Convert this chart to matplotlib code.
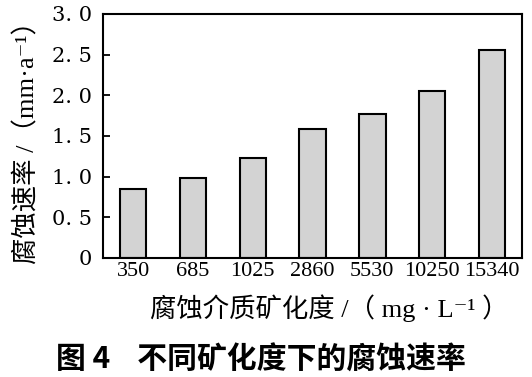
import matplotlib
matplotlib.use("Agg")
import matplotlib.pyplot as plt

# data
salinity = ["350", "685", "1025", "2860", "5530", "10250", "15340"]
rate = [0.85, 0.98, 1.23, 1.59, 1.77, 2.05, 2.56]
yticks = [0, 0.5, 1.0, 1.5, 2.0, 2.5, 3.0]
ytick_labels = ["0", "0. 5", "1. 0", "1. 5", "2. 0", "2. 5", "3. 0"]

fam = ["Liberation Serif", "DejaVu Serif", "Noto Sans CJK SC"]
plt.rcParams["font.family"] = fam

fig = plt.figure(figsize=(5.32, 3.77), dpi=100)
ax = fig.add_axes([0.194, 0.316, 0.787, 0.647])

x = list(range(len(salinity)))
ax.bar(x, rate, width=0.44, color="#d3d3d3", edgecolor="black", linewidth=1.5, zorder=2)

ax.set_xlim(-0.5, 6.5)
ax.set_ylim(0, 3.0)
ax.set_xticks(x)
ax.set_xticklabels(salinity, fontsize=16)
ax.set_yticks(yticks)
ax.set_yticklabels(ytick_labels, fontsize=15, family="DejaVu Serif")
ax.tick_params(axis="both", direction="in", width=1.3, zorder=3)
ax.tick_params(axis="x", length=6, pad=3)
ax.tick_params(axis="y", length=5, pad=8)
for s in ax.spines.values():
    s.set_linewidth(1.5)

ax.set_ylabel("腐蚀速率 /（mm·a⁻¹）", fontsize=19, labelpad=9)
ax.set_xlabel("腐蚀介质矿化度 /（ mg · L⁻¹ ）", fontsize=19)
ax.xaxis.set_label_coords(0.54, -0.15)

fig.text(0.49, 0.045, "图 4    不同矿化度下的腐蚀速率", ha="center", va="center",
         fontsize=21.5, fontweight="bold", family=["Noto Sans CJK SC", "DejaVu Sans"])

fig.savefig("out.png", dpi=100)
